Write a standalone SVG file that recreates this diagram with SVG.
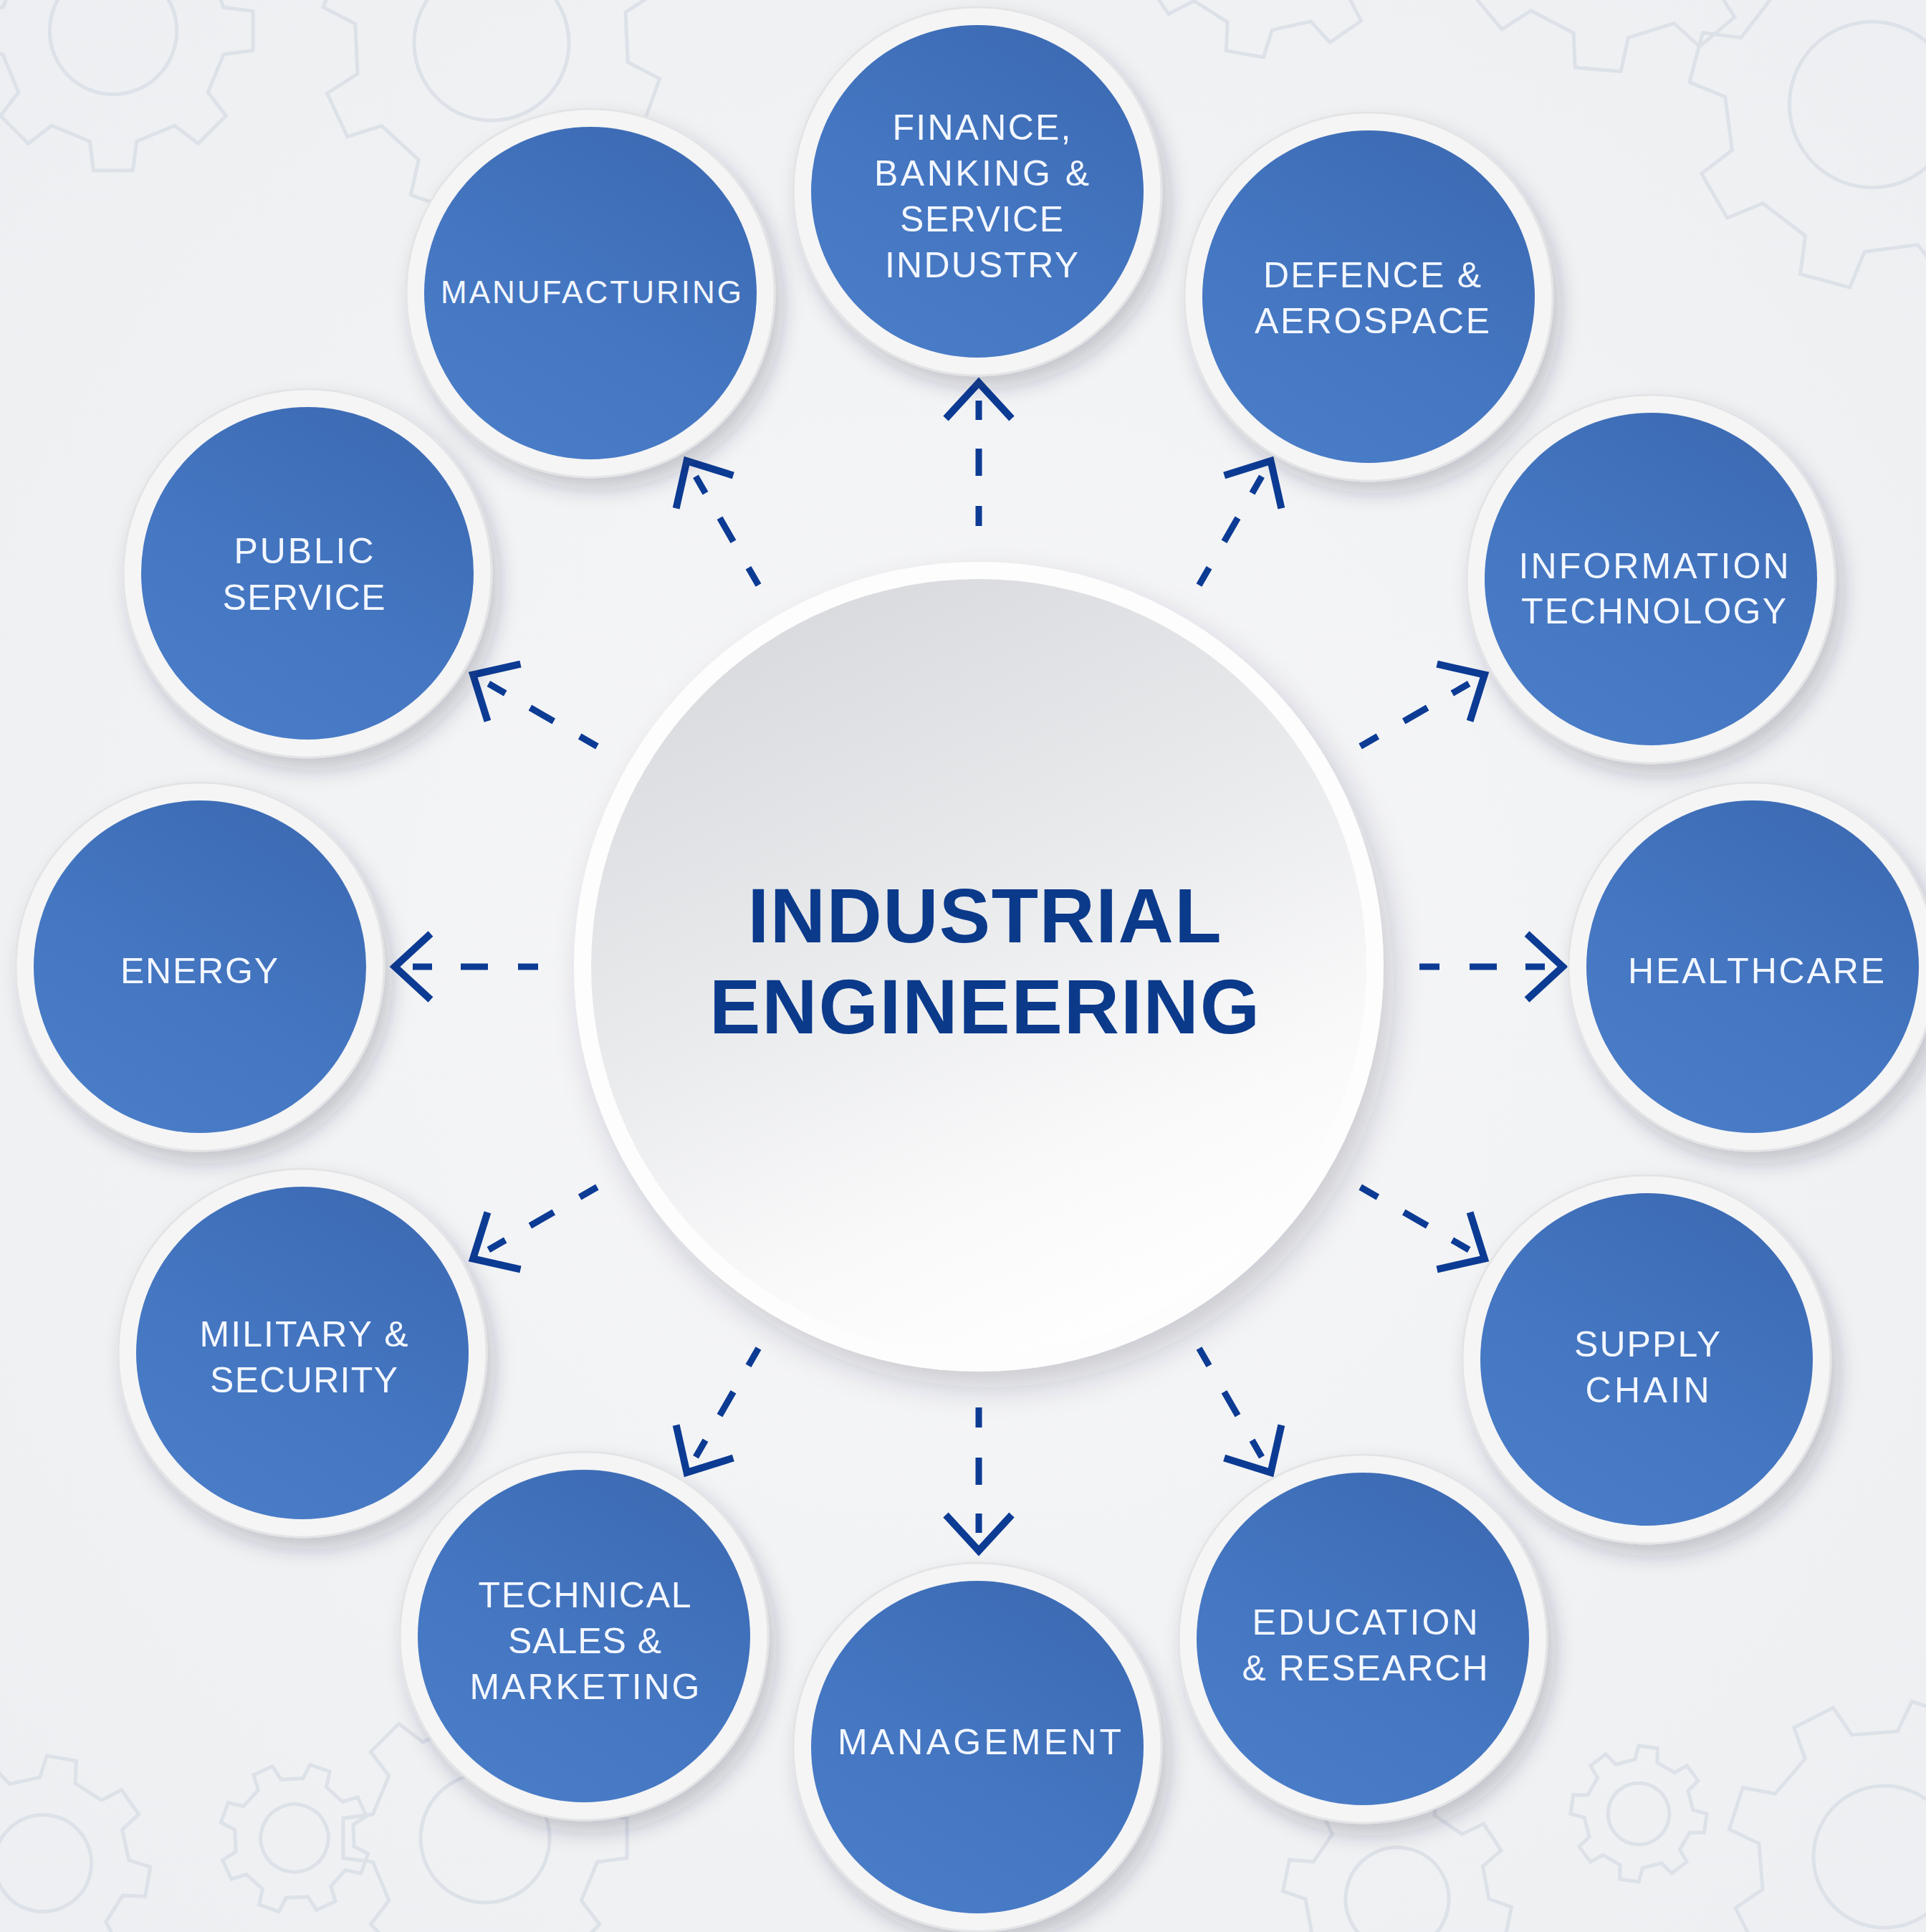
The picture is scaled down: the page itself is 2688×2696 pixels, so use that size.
<svg xmlns="http://www.w3.org/2000/svg" xmlns:xlink="http://www.w3.org/1999/xlink" width="2688" height="2696" viewBox="0 0 2688 2696">
<style>
.ring{fill:#f5f5f5;stroke:#e3e4e6;stroke-width:3;filter:url(#sh)}
.disk{fill:url(#blue)}
.lbl{font-family:"Liberation Sans",Arial,sans-serif;font-size:50px;fill:#f3f7ff;text-anchor:middle}
.sm{font-size:44px}
.title{font-family:"Liberation Sans",Arial,sans-serif;font-weight:bold;font-size:107px;fill:#0b3a8b;text-anchor:middle}
.conn{stroke:#0c3b94;stroke-width:9;fill:none;stroke-dasharray:28 42 38 40 27 300;marker-end:url(#chev)}
.gear{fill:none;stroke:#dde1e8;stroke-width:5}
</style>
<defs>
<radialGradient id="bg" cx="0.5" cy="0.5" r="0.75">
<stop offset="0" stop-color="#f7f7f8"/>
<stop offset="1" stop-color="#eceef1"/>
</radialGradient>
<linearGradient id="blue" x1="0.8" y1="0" x2="0.2" y2="1">
<stop offset="0" stop-color="#3c6ab3"/>
<stop offset="0.55" stop-color="#4476c1"/>
<stop offset="1" stop-color="#4a7dc8"/>
</linearGradient>
<linearGradient id="cgrad" x1="0.25" y1="0" x2="0.7" y2="1">
<stop offset="0" stop-color="#d8d9dd"/>
<stop offset="0.45" stop-color="#eaebed"/>
<stop offset="0.75" stop-color="#f9f9fa"/>
<stop offset="1" stop-color="#ffffff"/>
</linearGradient>
<filter id="sh" x="-25%" y="-25%" width="160%" height="160%">
<feDropShadow dx="10" dy="16" stdDeviation="14" flood-color="#1c2a40" flood-opacity="0.22"/>
</filter>
<filter id="bigsh" x="-20%" y="-20%" width="150%" height="150%">
<feDropShadow dx="14" dy="22" stdDeviation="22" flood-color="#1c2a40" flood-opacity="0.2"/>
</filter>
<marker id="chev" markerUnits="userSpaceOnUse" viewBox="-40 -60 80 120" markerWidth="80" markerHeight="120" refX="0" refY="0" orient="auto" overflow="visible">
<path d="M-25,-46 L25,0 L-25,46" fill="none" stroke="#0c3b94" stroke-width="10"/>
</marker>
<g id="gear">
<path vector-effect="non-scaling-stroke" d="M78.25,-16.63 L99.03,-13.92 L99.03,13.92 L78.25,16.63 L67.10,43.57 L79.86,60.18 L60.18,79.86 L43.57,67.10 L16.63,78.25 L13.92,99.03 L-13.92,99.03 L-16.63,78.25 L-43.57,67.10 L-60.18,79.86 L-79.86,60.18 L-67.10,43.57 L-78.25,16.63 L-99.03,13.92 L-99.03,-13.92 L-78.25,-16.63 L-67.10,-43.57 L-79.86,-60.18 L-60.18,-79.86 L-43.57,-67.10 L-16.63,-78.25 L-13.92,-99.03 L13.92,-99.03 L16.63,-78.25 L43.57,-67.10 L60.18,-79.86 L79.86,-60.18 L67.10,-43.57 Z"/>
<circle vector-effect="non-scaling-stroke" r="45"/>
</g>
</defs>

<rect id="background" width="2688" height="2696" fill="url(#bg)"/>

<g id="gears" class="gear">
<use xlink:href="#gear" transform="translate(158,43) scale(1.97)"/>
<use xlink:href="#gear" transform="translate(686,60) rotate(20) scale(2.4)"/>
<use xlink:href="#gear" transform="translate(1770,-110) rotate(10) scale(1.9)"/>
<use xlink:href="#gear" transform="translate(2250,-130) rotate(5) scale(2.3)"/>
<use xlink:href="#gear" transform="translate(2613,146) rotate(15) scale(2.57)"/>
<use xlink:href="#gear" transform="translate(60,2600) rotate(10) scale(1.5)"/>
<use xlink:href="#gear" transform="translate(411,2565) rotate(20) scale(1.05)"/>
<use xlink:href="#gear" transform="translate(677,2565) scale(2.0)"/>
<use xlink:href="#gear" transform="translate(1950,2650) rotate(12) scale(1.6)"/>
<use xlink:href="#gear" transform="translate(2287,2531) rotate(8) scale(0.95)"/>
<use xlink:href="#gear" transform="translate(2630,2591) rotate(18) scale(2.2)"/>
</g>

<g id="center-node">
<circle cx="1366" cy="1349" r="565" fill="#fdfdfd" filter="url(#bigsh)"/>
<circle cx="1366" cy="1349" r="541" fill="url(#cgrad)"/>
<text class="title" x="1374" y="1315" textLength="661" lengthAdjust="spacing">INDUSTRIAL</text>
<text class="title" x="1374" y="1442" textLength="768" lengthAdjust="spacing">ENGINEERING</text>
</g>

<g id="connectors">
<line class="conn" x1="1366" y1="734" x2="1366" y2="559"/>
<line class="conn" x1="1673.5" y1="816.4" x2="1761" y2="664.8"/>
<line class="conn" x1="1898.6" y1="1041.5" x2="2050.2" y2="954"/>
<line class="conn" x1="1981" y1="1349" x2="2156" y2="1349"/>
<line class="conn" x1="1898.6" y1="1656.5" x2="2050.2" y2="1744"/>
<line class="conn" x1="1673.5" y1="1881.6" x2="1761" y2="2033.2"/>
<line class="conn" x1="1366" y1="1964" x2="1366" y2="2139"/>
<line class="conn" x1="1058.5" y1="1881.6" x2="971" y2="2033.2"/>
<line class="conn" x1="833.4" y1="1656.5" x2="681.8" y2="1744"/>
<line class="conn" x1="751" y1="1349" x2="576" y2="1349"/>
<line class="conn" x1="833.4" y1="1041.5" x2="681.8" y2="954"/>
<line class="conn" x1="1058.5" y1="816.4" x2="971" y2="664.8"/>
</g>

<g id="node-finance">
<circle class="ring" cx="1364" cy="267" r="257"/>
<circle class="disk" cx="1364" cy="267" r="232"/>
<text class="lbl" x="1370" y="195" textLength="249" lengthAdjust="spacing">FINANCE,</text>
<text class="lbl" x="1370" y="259" textLength="300" lengthAdjust="spacing">BANKING &amp;</text>
<text class="lbl" x="1370" y="323" textLength="228" lengthAdjust="spacing">SERVICE</text>
<text class="lbl" x="1370" y="387" textLength="270" lengthAdjust="spacing">INDUSTRY</text>
</g>

<g id="node-manufacturing">
<circle class="ring" cx="824" cy="409" r="257"/>
<circle class="disk" cx="824" cy="409" r="232"/>
<text class="lbl sm" x="825" y="423" textLength="420" lengthAdjust="spacing">MANUFACTURING</text>
</g>

<g id="node-defence">
<circle class="ring" cx="1910" cy="414" r="257"/>
<circle class="disk" cx="1910" cy="414" r="232"/>
<text class="lbl" x="1915" y="401" textLength="304" lengthAdjust="spacing">DEFENCE &amp;</text>
<text class="lbl" x="1915" y="465" textLength="328" lengthAdjust="spacing">AEROSPACE</text>
</g>

<g id="node-it">
<circle class="ring" cx="2304" cy="808" r="257"/>
<circle class="disk" cx="2304" cy="808" r="232"/>
<text class="lbl" x="2308" y="807" textLength="377" lengthAdjust="spacing">INFORMATION</text>
<text class="lbl" x="2308" y="870" textLength="370" lengthAdjust="spacing">TECHNOLOGY</text>
</g>

<g id="node-healthcare">
<circle class="ring" cx="2446" cy="1349" r="257"/>
<circle class="disk" cx="2446" cy="1349" r="232"/>
<text class="lbl" x="2451" y="1372" textLength="358" lengthAdjust="spacing">HEALTHCARE</text>
</g>

<g id="node-supply">
<circle class="ring" cx="2298" cy="1897" r="257"/>
<circle class="disk" cx="2298" cy="1897" r="232"/>
<text class="lbl" x="2299" y="1893" textLength="204" lengthAdjust="spacing">SUPPLY</text>
<text class="lbl" x="2299" y="1957" textLength="173" lengthAdjust="spacing">CHAIN</text>
</g>

<g id="node-education">
<circle class="ring" cx="1902" cy="2287" r="257"/>
<circle class="disk" cx="1902" cy="2287" r="232"/>
<text class="lbl" x="1905" y="2281" textLength="315" lengthAdjust="spacing">EDUCATION</text>
<text class="lbl" x="1905" y="2345" textLength="343" lengthAdjust="spacing">&amp; RESEARCH</text>
</g>

<g id="node-management">
<circle class="ring" cx="1364" cy="2438" r="257"/>
<circle class="disk" cx="1364" cy="2438" r="232"/>
<text class="lbl" x="1367" y="2448" textLength="396" lengthAdjust="spacing">MANAGEMENT</text>
</g>

<g id="node-technical">
<circle class="ring" cx="815" cy="2283" r="257"/>
<circle class="disk" cx="815" cy="2283" r="232"/>
<text class="lbl" x="816" y="2243" textLength="297" lengthAdjust="spacing">TECHNICAL</text>
<text class="lbl" x="816" y="2307" textLength="214" lengthAdjust="spacing">SALES &amp;</text>
<text class="lbl" x="816" y="2371" textLength="321" lengthAdjust="spacing">MARKETING</text>
</g>

<g id="node-military">
<circle class="ring" cx="422" cy="1888" r="257"/>
<circle class="disk" cx="422" cy="1888" r="232"/>
<text class="lbl" x="424" y="1879" textLength="291" lengthAdjust="spacing">MILITARY &amp;</text>
<text class="lbl" x="424" y="1943" textLength="262" lengthAdjust="spacing">SECURITY</text>
</g>

<g id="node-energy">
<circle class="ring" cx="279" cy="1349" r="257"/>
<circle class="disk" cx="279" cy="1349" r="232"/>
<text class="lbl" x="278" y="1372" textLength="220" lengthAdjust="spacing">ENERGY</text>
</g>

<g id="node-public">
<circle class="ring" cx="429" cy="800" r="257"/>
<circle class="disk" cx="429" cy="800" r="232"/>
<text class="lbl" x="424" y="786" textLength="195" lengthAdjust="spacing">PUBLIC</text>
<text class="lbl" x="424" y="851" textLength="227" lengthAdjust="spacing">SERVICE</text>
</g>
</svg>
